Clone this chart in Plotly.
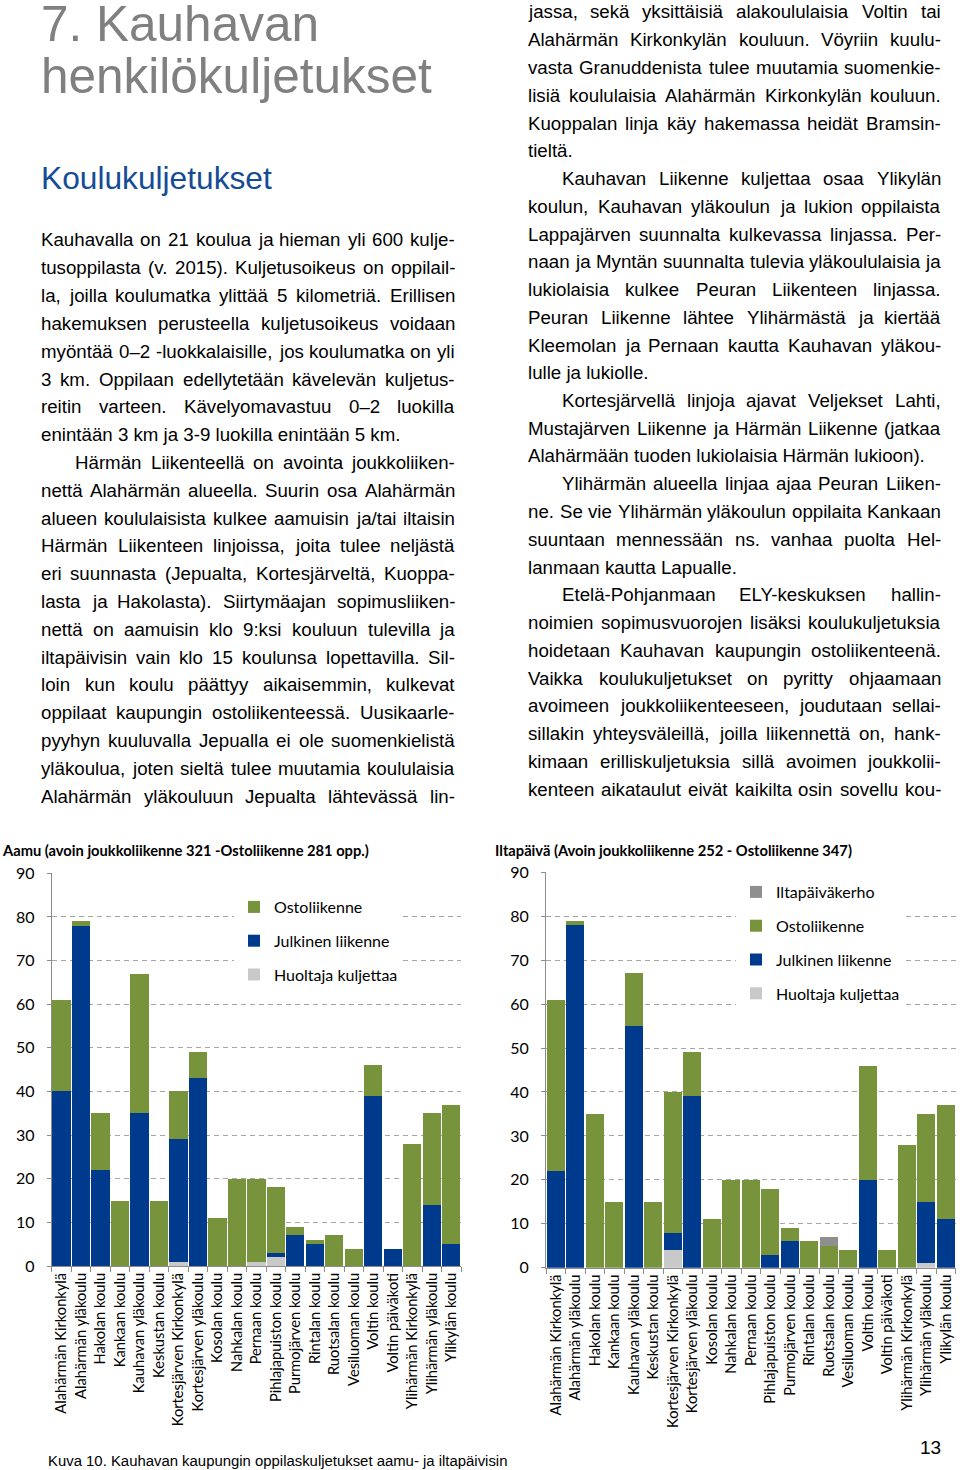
import plotly.graph_objects as go

# ---------------- data ----------------
categories = ["Alahärmän Kirkonkylä", "Alahärmän yläkoulu", "Hakolan koulu", "Kankaan koulu",
              "Kauhavan yläkoulu", "Keskustan koulu", "Kortesjärven Kirkonkylä", "Kortesjärven yläkoulu",
              "Kosolan koulu", "Nahkalan koulu", "Pernaan koulu", "Pihlajapuiston koulu",
              "Purmojärven koulu", "Rintalan koulu", "Ruotsalan koulu", "Vesiluoman koulu",
              "Voltin koulu", "Voltin päiväkoti", "Ylihärmän Kirkonkylä", "Ylihärmän yläkoulu",
              "Ylikylän koulu"]

am_huoltaja = [0, 0, 0, 0, 0, 0, 1, 0, 0, 0, 1, 2, 0, 0, 0, 0, 0, 0, 0, 0, 0]
am_julkinen = [40, 78, 22, 0, 35, 0, 28, 43, 0, 0, 0, 1, 7, 5, 0, 0, 39, 4, 0, 14, 5]
am_osto = [21, 1, 13, 15, 32, 15, 11, 6, 11, 20, 19, 15, 2, 1, 7, 4, 7, 0, 28, 21, 32]

pm_huoltaja = [0, 0, 0, 0, 0, 0, 4, 0, 0, 0, 0, 0, 0, 0, 0, 0, 0, 0, 0, 1, 0]
pm_julkinen = [22, 78, 0, 0, 55, 0, 4, 39, 0, 0, 0, 3, 6, 0, 0, 0, 20, 0, 0, 14, 11]
pm_osto = [39, 1, 35, 15, 12, 15, 32, 10, 11, 20, 20, 15, 3, 6, 5, 4, 26, 4, 28, 20, 26]
pm_kerho = [0, 0, 0, 0, 0, 0, 0, 0, 0, 0, 0, 0, 0, 0, 2, 0, 0, 0, 0, 0, 0]

title_am = "Aamu (avoin joukkoliikenne 321 -Ostoliikenne 281 opp.)"
title_pm = "Iltapäivä (Avoin joukkoliikenne 252 - Ostoliikenne 347)"
caption = "Kuva 10. Kauhavan kaupungin oppilaskuljetukset aamu- ja iltapäivisin"
page_number = "13"

heading_lines = ["7. Kauhavan", "henkilökuljetukset"]
subheading = "Koulukuljetukset"

# paragraphs: (indented, lines, last line justified?)
left_paragraphs = [
    (False, ["Kauhavalla on 21 koulua ja hieman yli 600 kulje-",
             "tusoppilasta (v. 2015). Kuljetusoikeus on oppilail-",
             "la, joilla koulumatka ylittää 5 kilometriä. Erillisen",
             "hakemuksen perusteella kuljetusoikeus voidaan",
             "myöntää 0–2 -luokkalaisille, jos koulumatka on yli",
             "3 km. Oppilaan edellytetään kävelevän kuljetus-",
             "reitin varteen.  Kävelyomavastuu 0–2 luokilla",
             "enintään 3 km ja 3-9 luokilla enintään 5 km."], False),
    (True, ["Härmän Liikenteellä on avointa joukkoliiken-",
            "nettä Alahärmän alueella. Suurin osa Alahärmän",
            "alueen koululaisista kulkee aamuisin ja/tai iltaisin",
            "Härmän Liikenteen linjoissa, joita tulee neljästä",
            "eri suunnasta (Jepualta, Kortesjärveltä, Kuoppa-",
            "lasta ja Hakolasta). Siirtymäajan sopimusliiken-",
            "nettä on aamuisin klo 9:ksi kouluun tulevilla ja",
            "iltapäivisin vain klo 15 koulunsa lopettavilla. Sil-",
            "loin kun koulu päättyy aikaisemmin, kulkevat",
            "oppilaat kaupungin ostoliikenteessä. Uusikaarle-",
            "pyyhyn kuuluvalla Jepualla ei ole suomenkielistä",
            "yläkoulua, joten sieltä tulee muutamia koululaisia",
            "Alahärmän yläkouluun Jepualta lähtevässä lin-"], True),
]
right_paragraphs = [
    (False, ["jassa, sekä yksittäisiä alakoululaisia Voltin tai",
             "Alahärmän Kirkonkylän kouluun. Vöyriin kuulu-",
             "vasta Granuddenista tulee muutamia suomenkie-",
             "lisiä koululaisia Alahärmän Kirkonkylän kouluun.",
             "Kuoppalan linja käy hakemassa heidät Bramsin-",
             "tieltä."], False),
    (True, ["Kauhavan Liikenne kuljettaa osaa Ylikylän",
            "koulun, Kauhavan yläkoulun ja lukion oppilaista",
            "Lappajärven suunnalta kulkevassa linjassa. Per-",
            "naan ja Myntän suunnalta tulevia yläkoululaisia ja",
            "lukiolaisia kulkee Peuran Liikenteen linjassa.",
            "Peuran Liikenne lähtee Ylihärmästä ja kiertää",
            "Kleemolan ja Pernaan kautta Kauhavan yläkou-",
            "lulle ja lukiolle."], False),
    (True, ["Kortesjärvellä linjoja ajavat Veljekset Lahti,",
            "Mustajärven Liikenne ja Härmän Liikenne (jatkaa",
            "Alahärmään tuoden lukiolaisia Härmän lukioon)."], False),
    (True, ["Ylihärmän alueella linjaa ajaa Peuran Liiken-",
            "ne. Se vie Ylihärmän yläkoulun oppilaita Kankaan",
            "suuntaan mennessään ns. vanhaa puolta Hel-",
            "lanmaan kautta Lapualle."], False),
    (True, ["Etelä-Pohjanmaan ELY-keskuksen hallin-",
            "noimien sopimusvuorojen lisäksi koulukuljetuksia",
            "hoidetaan Kauhavan kaupungin ostoliikenteenä.",
            "Vaikka koulukuljetukset on pyritty ohjaamaan",
            "avoimeen joukkoliikenteeseen, joudutaan sellai-",
            "sillakin yhteysväleillä, joilla liikennettä on, hank-",
            "kimaan erilliskuljetuksia sillä avoimen joukkolii-",
            "kenteen aikataulut eivät kaikilta osin sovellu kou-"], True),
]

# ---------------- style ----------------
PW, PH = 960, 1470
GREEN = "#77933C"
BLUE = "#003A8C"
LIGHTGRAY = "#C9C9C9"
DARKGRAY = "#8F8F8F"
BODY = "Liberation Sans, Arial, sans-serif"
CHART = "Lato, Carlito, Calibri, sans-serif"
BODY_SIZE = 18.7

# Arial / Liberation Sans advance widths (per 1000 em)
AW = {' ': 278, ',': 278, '.': 278, '-': 333, '(': 333, ')': 333, ':': 278, '/': 278, '–': 556,
      'A': 667, 'B': 667, 'C': 722, 'D': 722, 'E': 667, 'F': 611, 'G': 778, 'H': 722, 'I': 278,
      'J': 500, 'K': 667, 'L': 556, 'M': 833, 'N': 722, 'O': 778, 'P': 667, 'Q': 778, 'R': 722,
      'S': 667, 'T': 611, 'U': 722, 'V': 667, 'W': 944, 'X': 667, 'Y': 667, 'Z': 611,
      'a': 556, 'b': 556, 'c': 500, 'd': 556, 'e': 556, 'f': 278, 'g': 556, 'h': 556, 'i': 222,
      'j': 222, 'k': 500, 'l': 222, 'm': 833, 'n': 556, 'o': 556, 'p': 556, 'q': 556, 'r': 333,
      's': 500, 't': 278, 'u': 556, 'v': 500, 'w': 722, 'x': 500, 'y': 500, 'z': 500,
      'ä': 556, 'ö': 556, 'Ä': 667, 'Ö': 778}


def tw(s, size):
    return sum(AW.get(c, 556) for c in s) / 1000.0 * size


annotations = []


def add_text(x, y, s, size, color="#000000", family=BODY, anchor="left"):
    annotations.append(dict(x=x / PW, y=1 - y / PH, xref="paper", yref="paper", text=s,
                            showarrow=False, xanchor=anchor, yanchor="middle",
                            borderpad=0, borderwidth=0,
                            font=dict(size=size, color=color, family=family)))


def add_column(paragraphs, left, right, indent, y0, step):
    i = 0
    for indented, lines, last_just in paragraphs:
        for k, line in enumerate(lines):
            y = y0 + step * i
            start = left + (indent if (indented and k == 0) else 0)
            justify = (k < len(lines) - 1) or last_just
            if not justify:
                add_text(start, y, line, BODY_SIZE)
            else:
                words = line.split()
                widths = [tw(w, BODY_SIZE) for w in words]
                gap = (right - start - sum(widths)) / (len(words) - 1)
                x = start
                for j, w in enumerate(words):
                    if j == len(words) - 1:
                        add_text(right, y, w, BODY_SIZE, anchor="right")
                    else:
                        add_text(x, y, w, BODY_SIZE)
                    x += widths[j] + gap
            i += 1


# headings
add_text(41, 23, heading_lines[0], 49.5, "#808080")
add_text(41, 76, heading_lines[1], 49.5, "#808080")
add_text(41, 178, subheading, 31.7, "#164B96")

add_column(left_paragraphs, 41, 455, 34, 240, 27.8)
add_column(right_paragraphs, 528, 941, 34, 12, 27.75)

# chart titles, caption, page number
add_text(2, 850, "<b>" + title_am + "</b>", 14.7, "#000000", CHART)
add_text(495, 850, "<b>" + title_pm + "</b>", 14.7, "#000000", CHART)
add_text(48, 1461, caption, 14.9)
add_text(941, 1447, page_number, 19, anchor="right")

# ---------------- figure ----------------
fig = go.Figure()


def bar(name, y, color, xa, ya, leg, rank):
    fig.add_trace(go.Bar(x=categories, y=y, name=name, marker=dict(color=color, line=dict(width=0)),
                         xaxis=xa, yaxis=ya, legend=leg, legendgroup=leg + name, legendrank=rank))


bar("Huoltaja kuljettaa", am_huoltaja, LIGHTGRAY, "x", "y", "legend", 3)
bar("Julkinen liikenne", am_julkinen, BLUE, "x", "y", "legend", 2)
bar("Ostoliikenne", am_osto, GREEN, "x", "y", "legend", 1)

bar("Huoltaja kuljettaa", pm_huoltaja, LIGHTGRAY, "x2", "y2", "legend2", 4)
bar("Julkinen liikenne", pm_julkinen, BLUE, "x2", "y2", "legend2", 3)
bar("Ostoliikenne", pm_osto, GREEN, "x2", "y2", "legend2", 2)
bar("Iltapäiväkerho", pm_kerho, DARKGRAY, "x2", "y2", "legend2", 1)

xcommon = dict(type="category", showline=True, linecolor="#8C8C8C", linewidth=1, ticks="outside",
               tickson="boundaries", ticklen=5, tickcolor="#8C8C8C", tickangle=-90,
               tickfont=dict(family=CHART, size=14.7, color="#000000"), showgrid=False,
               automargin=False, fixedrange=True)
ycommon = dict(range=[0, 90], dtick=10, showline=True, linecolor="#8C8C8C", linewidth=1,
               ticks="outside", ticklen=4, tickcolor="#8C8C8C", showgrid=True, gridcolor="#A6A6A6",
               gridwidth=1, griddash="5px,4px", zeroline=False, ticklabelstandoff=9,
               tickfont=dict(family=CHART, size=16, color="#000000"), automargin=False,
               fixedrange=True)

legcommon = dict(bgcolor="white", borderwidth=0, traceorder="grouped", tracegroupgap=10,
                 font=dict(family=CHART, size=16, color="#000000"), xanchor="left", yanchor="top",
                 itemclick=False, itemdoubleclick=False)

fig.update_layout(
    width=PW, height=PH, margin=dict(l=0, r=0, t=0, b=0),
    paper_bgcolor="white", plot_bgcolor="white",
    barmode="stack", bargap=0.06, showlegend=True,
    xaxis=dict(domain=[51.7 / PW, 461 / PW], anchor="y", **xcommon),
    yaxis=dict(domain=[1 - 1266 / PH, 1 - 873.3 / PH], anchor="x", **ycommon),
    xaxis2=dict(domain=[546 / PW, 955.5 / PW], anchor="y2", **xcommon),
    yaxis2=dict(domain=[1 - 1267.7 / PH, 1 - 872.3 / PH], anchor="x2", **ycommon),
    legend=dict(x=234 / PW, y=1 - 890 / PH, **legcommon),
    legend2=dict(x=736 / PW, y=1 - 875 / PH, **legcommon),
    annotations=annotations,
)

fig.write_html("out.html", config={"displayModeBar": False, "staticPlot": False},
               post_script="document.body.style.margin='0';document.body.style.padding='0';"
                           "document.documentElement.style.overflow='hidden';")
